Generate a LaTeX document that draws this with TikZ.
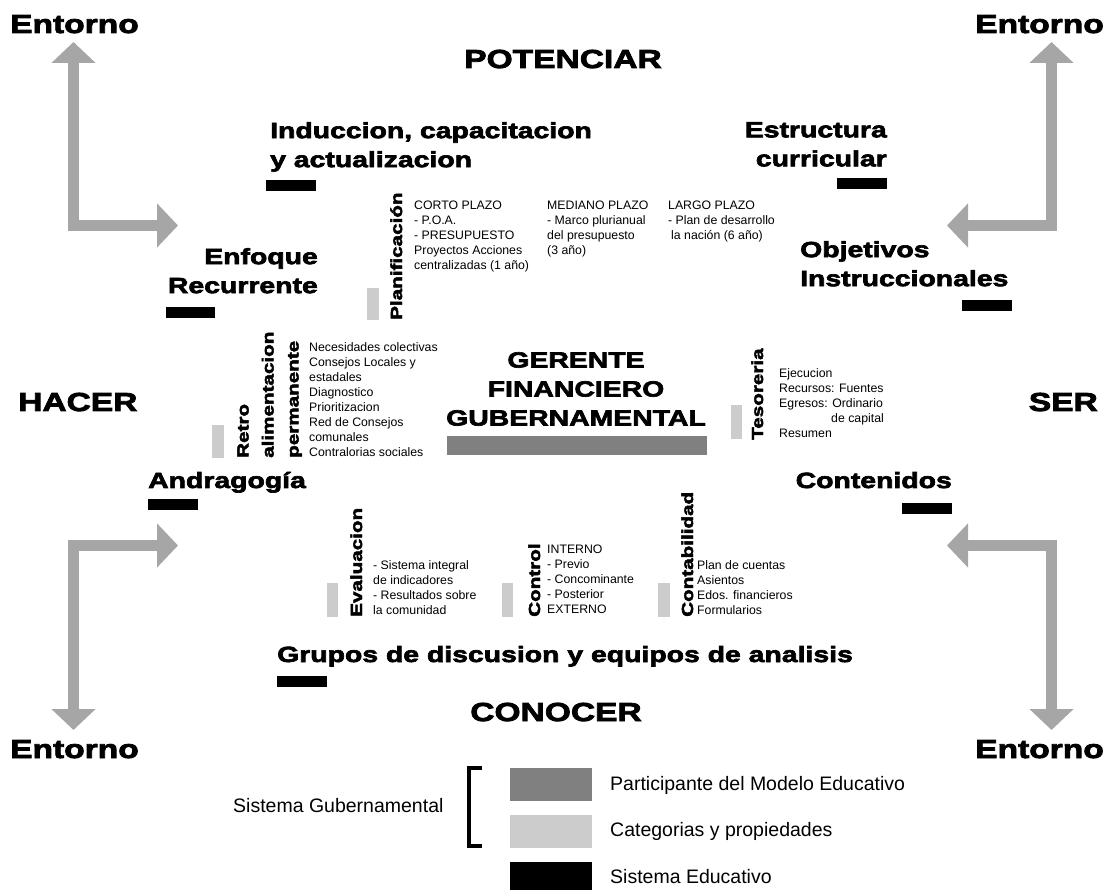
\documentclass[tikz,border=0pt]{standalone}
\usepackage{fontspec}
\setmainfont{Liberation Sans}
\newfontfamily\heavy{Liberation Sans Bold}[FakeStretch=1.29, FakeBold=3]
\usetikzlibrary{arrows.meta}
\definecolor{garr}{HTML}{A6A6A6}
\definecolor{partc}{HTML}{808080}
\definecolor{catc}{HTML}{CCCCCC}
\tikzset{
  big/.style={inner sep=0pt, font=\heavy\fontsize{26}{30}\selectfont},
  head/.style={inner sep=0pt, font=\heavy\fontsize{22}{29}\selectfont},
  rot/.style={inner sep=0pt, rotate=90, font=\heavy\fontsize{16}{25}\selectfont},
  small/.style={inner sep=0pt, align=left, font=\fontsize{12.3}{15}\selectfont},
  leg/.style={inner sep=0pt, font=\fontsize{19.5}{22}\selectfont},
  edubar/.style={fill=black},
  catbar/.style={fill=catc},
  garrow/.style={draw=garr, line width=10.5pt, line join=miter,
    {Triangle[length=21pt,width=43pt]}-{Triangle[length=21pt,width=43pt]}}
}
\begin{document}
\begin{tikzpicture}[x=1pt,y=-1pt]
\useasboundingbox (0,0) rectangle (1117,890);
% gray arrows
\coordinate (tlh) at (178,225.5); \coordinate (tlv) at (73.5,42);
\coordinate (blh) at (178,545.5); \coordinate (blv) at (73.5,730);
\coordinate (trh) at (947,225.5); \coordinate (trv) at (1051.5,42);
\coordinate (brh) at (947,545.5); \coordinate (brv) at (1051.5,730);
\draw[garrow] (tlh) -| (tlv);
\draw[garrow] (blh) -| (blv);
\draw[garrow] (trh) -| (trv);
\draw[garrow] (brh) -| (brv);
% corner labels
\node[big, anchor=base west] (ent1) at (10,33) {Entorno};
\node[big, anchor=base east] (ent2) at (1104,33) {Entorno};
\node[big, anchor=base west] (ent3) at (10,758) {Entorno};
\node[big, anchor=base east] (ent4) at (1104,758) {Entorno};
\node[big, anchor=base] (pot) at (563,68) {POTENCIAR};
\node[big, anchor=base west] (hacer) at (18,411) {HACER};
\node[big, anchor=base east] (ser) at (1098,411) {SER};
\node[big, anchor=base] (conocer) at (556,721) {CONOCER};
% headings
\node[head, anchor=north west, align=left] (induc) at (270,122) {Induccion, capacitacion\\y actualizacion};
\node[head, anchor=north east, align=right] (estr) at (887,122) {Estructura\\curricular};
\node[head, anchor=north east, align=right] (enfo) at (318,248) {Enfoque\\Recurrente};
\node[head, anchor=north west, align=left] (obj) at (800,241) {Objetivos\\Instruccionales};
\node[head, anchor=base west] (andra) at (148,488) {Andragogía};
\node[head, anchor=base east] (conte) at (952,488) {Contenidos};
\node[head, anchor=base west] (grupos) at (277,662) {Grupos de discusion y equipos de analisis};
\node[head, anchor=north, align=center] (gerente) at (576,352) {GERENTE\\FINANCIERO\\GUBERNAMENTAL};
\fill[partc] (447,436) rectangle (707,455);
% black bars
\fill[edubar] (266,180) rectangle (316,191);
\fill[edubar] (166,307) rectangle (215,318);
\fill[edubar] (837,178) rectangle (887,189);
\fill[edubar] (962,300) rectangle (1012,311);
\fill[edubar] (148,499) rectangle (198,510);
\fill[edubar] (902,503) rectangle (952,514);
\fill[edubar] (277,676) rectangle (327,687);
% category bars
\fill[catbar] (367,288) rectangle (379,320);
\fill[catbar] (212,425) rectangle (224,458);
\fill[catbar] (731,405) rectangle (742,439);
\fill[catbar] (327,583) rectangle (338,617);
\fill[catbar] (502,583) rectangle (513,617);
\fill[catbar] (658,583) rectangle (670,617);
% rotated category labels
\node[rot, anchor=base west] (plan) at (402,320) {Planificación};
\node[rot, anchor=south west, align=left] (retro) at (302,458) {Retro\\alimentacion\\permanente};
\node[rot, anchor=base west] (teso) at (763,440) {Tesoreria};
\node[rot, anchor=base west] (eval) at (362,617) {Evaluacion};
\node[rot, anchor=base west] (contr) at (540,617) {Control};
\node[rot, anchor=base west] (conta) at (693,617) {Contabilidad};
% small texts
\node[small, anchor=north west] (plan1) at (414,201) {CORTO PLAZO\\- P.O.A.\\- PRESUPUESTO\\Proyectos Acciones\\centralizadas (1 año)};
\node[small, anchor=north west] (plan2) at (547,201) {MEDIANO PLAZO\\- Marco plurianual\\del presupuesto\\(3 año)};
\node[small, anchor=north west] (plan3) at (668,201) {LARGO PLAZO\\- Plan de desarrollo\\\hspace*{3pt}la nación (6 año)};
\node[small, anchor=north west] (retrot) at (309,342) {Necesidades colectivas\\Consejos Locales y\\estadales\\Diagnostico\\Prioritizacion\\Red de Consejos\\comunales\\Contralorias sociales};
\node[small, anchor=north west] (tesot) at (779,368) {Ejecucion\\Recursos: Fuentes\\Egresos: Ordinario\\\hspace*{52pt}de capital\\Resumen};
\node[small, anchor=north west] (evalt) at (373,560) {- Sistema integral\\de indicadores\\- Resultados sobre\\la comunidad};
\node[small, anchor=north west] (contrt) at (547,545) {INTERNO\\- Previo\\- Concominante\\- Posterior\\EXTERNO};
\node[small, anchor=north west] (contat) at (697,560) {Plan de cuentas\\Asientos\\Edos. financieros\\Formularios};
% legend
\node[leg, anchor=west] (sisgub) at (233,806) {Sistema Gubernamental};
\draw[line width=4pt] (482,768) -- (469,768) -- (469,846) -- (482,846);
\fill[partc] (510,768) rectangle (592,801);
\fill[catc] (510,815) rectangle (592,848);
\fill[black] (510,862) rectangle (592,890);
\node[leg, anchor=west] (leg1) at (610,785) {Participante del Modelo Educativo};
\node[leg, anchor=west] (leg2) at (610,831) {Categorias y propiedades};
\node[leg, anchor=west] (leg3) at (610,877) {Sistema Educativo};
\end{tikzpicture}
\end{document}
